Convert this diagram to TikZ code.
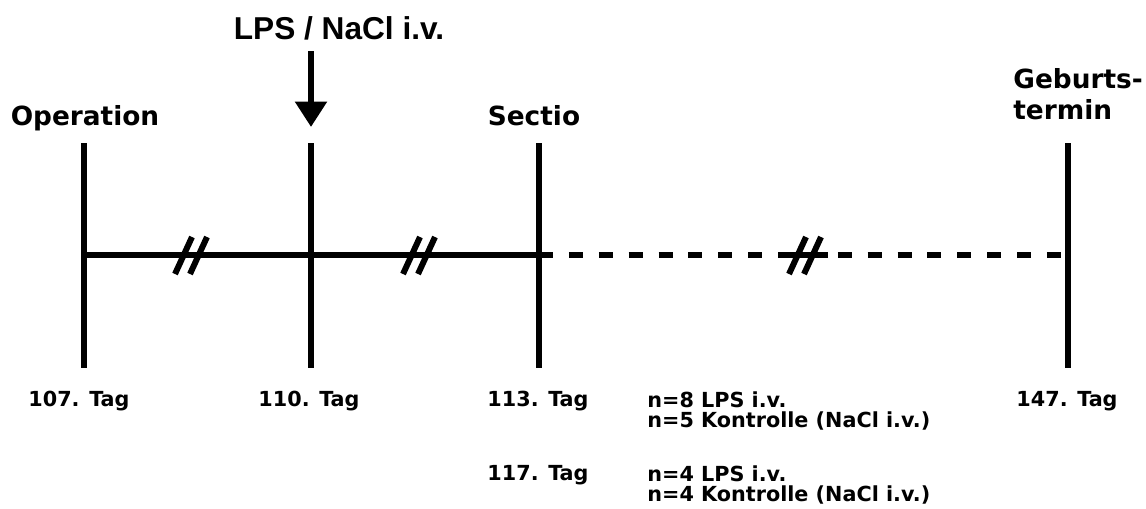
\documentclass[tikz,border=0pt]{standalone}
\usepackage{fontspec}
\setmainfont{DejaVu Sans}
\newfontfamily\arialfont[BoldFont={Liberation Sans Bold}]{Liberation Sans}
\usetikzlibrary{arrows.meta}

\begin{document}
\begin{tikzpicture}[x=0.2mm,y=-0.2mm,
        dayline/.style={line width=3.4pt},
        gapmark/.style={line width=3.4pt},
        headtxt/.style={font=\bfseries\fontsize{15}{17.5}\selectfont,inner sep=0pt},
        daytxt/.style={font=\bfseries\fontsize{11.8}{11.8}\selectfont,inner sep=0pt}]
        % \draw[very thin,color=gray] (0,0) grid[step=50] (1146,508);
        \useasboundingbox (0,0) rectangle (1146,508);

        \coordinate (op) at (84,255);
        \coordinate (lps) at (311,255);
        \coordinate (sec) at (539,255);
        \coordinate (geb) at (1068,255);

        \draw[dayline] (op) ++(0,-112) -- ++(0,225);
        \draw[dayline] (lps) ++(0,-112) -- ++(0,225);
        \draw[dayline] (sec) ++(0,-112) -- ++(0,225);
        \draw[dayline] (geb) ++(0,-112) -- ++(0,225);

        \draw[dayline] (op) -- (sec);
        \draw[dayline,dash pattern=on 8pt off 9pt] (sec) -- (geb);
        \draw[dayline] (780,255) -- (828,255);
        \foreach \bx in {191,419,805} {
            \draw[gapmark] (\bx-16,274) -- (\bx+1,237);
            \draw[gapmark] (\bx-1,274) -- (\bx+16,237);
        }

        \node[font=\arialfont\bfseries\fontsize{18}{21}\selectfont,inner sep=0pt,anchor=base] (lpstxt) at (339,39) {LPS / NaCl i.v.};
        \coordinate (arrtop) at (311,51);
        \coordinate (arrtip) at (311,127);
        \draw[line width=3.6pt,-{Triangle[width=17.5pt,length=14.5pt]}] (arrtop) -- (arrtip);

        \node[headtxt,anchor=base] (optxt) at (85,125) {Operation};
        \node[headtxt,anchor=base] (sectxt) at (534,125) {Sectio};
        \node[headtxt,anchor=north west,align=left] (gebtxt) at (1013,68) {Geburts-\\termin};

        \node[daytxt,anchor=base] (d107) at (79,406) {107. Tag};
        \node[daytxt,anchor=base] (d110) at (309,406) {110. Tag};
        \node[daytxt,anchor=base] (d113) at (538,406) {113. Tag};
        \node[daytxt,anchor=base] (d117) at (538,480) {117. Tag};
        \node[daytxt,anchor=base] (d147) at (1067,406) {147. Tag};

        \node[daytxt,anchor=north west,align=left] (n113) at (647,391) {n=8 LPS i.v.\\n=5 Kontrolle (NaCl i.v.)};
        \node[daytxt,anchor=north west,align=left] (n117) at (647,465) {n=4 LPS i.v.\\n=4 Kontrolle (NaCl i.v.)};
    \end{tikzpicture}
\end{document}
